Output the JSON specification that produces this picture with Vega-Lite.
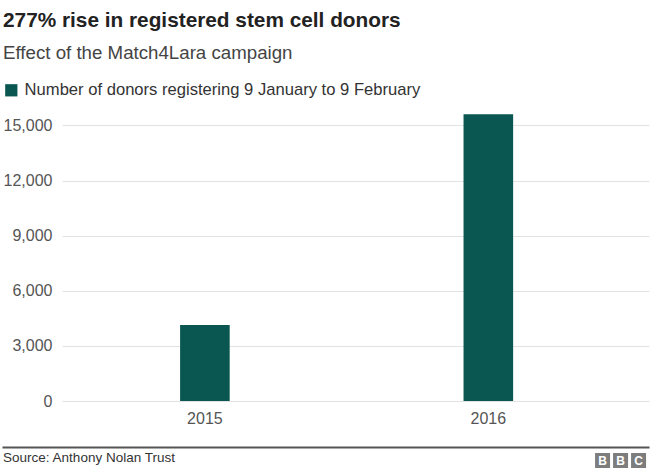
{
  "$schema": "https://vega.github.io/schema/vega-lite/v6.json",
  "padding": {"left": 3, "top": 9, "right": 10, "bottom": 0},
  "background": "white",
  "title": {
    "text": "277% rise in registered stem cell donors",
    "subtitle": "Effect of the Match4Lara campaign",
    "anchor": "start",
    "font": "Liberation Sans",
    "fontSize": 20.8,
    "fontWeight": "bold",
    "color": "#222222",
    "subtitleFont": "Liberation Sans",
    "subtitleFontSize": 18.7,
    "subtitleColor": "#444444",
    "subtitlePadding": 13,
    "offset": 18
  },
  "spacing": 21,
  "config": {"view": {"stroke": null}, "font": "Liberation Sans"},
  "vconcat": [
    {
      "width": 587,
      "height": 294,
      "data": {
        "values": [
          {"year": "2015", "donors": 4140, "series": "Number of donors registering 9 January to 9 February"},
          {"year": "2016", "donors": 15600, "series": "Number of donors registering 9 January to 9 February"}
        ]
      },
      "mark": {"type": "bar"},
      "encoding": {
        "x": {
          "field": "year",
          "type": "nominal",
          "scale": {"paddingInner": 0.825, "paddingOuter": 0.448, "align": 0.465},
          "axis": {"title": null, "labelAngle": 0, "labelFontSize": 16, "labelColor": "#555555", "domain": false, "ticks": false, "labelPadding": 9}
        },
        "y": {
          "field": "donors",
          "type": "quantitative",
          "scale": {"domain": [0, 16000], "nice": false},
          "axis": {"title": null, "values": [0, 3000, 6000, 9000, 12000, 15000], "format": ",d", "labelFontSize": 16, "labelColor": "#555555", "domain": false, "ticks": false, "labelPadding": 10, "gridColor": "#e2e2e2"}
        },
        "color": {
          "field": "series",
          "type": "nominal",
          "scale": {"range": ["#0a5752"]},
          "legend": {"title": null, "orient": "none", "legendX": -59, "legendY": -25, "symbolType": "square", "symbolSize": 150, "symbolStrokeWidth": 0, "symbolOpacity": 1, "labelFontSize": 16.6, "labelColor": "#333333", "labelOffset": 5, "labelLimit": 600}
        }
      }
    },
    {
      "width": 587,
      "height": 27,
      "encoding": {
        "x": {
          "field": "pos",
          "type": "quantitative",
          "scale": {"domain": [-32.36, 3.58], "nice": false, "zero": false, "range": [-60, 587]},
          "axis": {"orient": "top", "title": null, "labels": false, "ticks": false, "grid": false, "domain": true, "domainColor": "#555555", "domainWidth": 2}
        }
      },
      "layer": [
        {
          "data": {"values": [{"letter": "B", "pos": 1}, {"letter": "B", "pos": 2}, {"letter": "C", "pos": 3}]},
          "layer": [
            {"mark": {"type": "square", "size": 225, "color": "#7d7d7d", "opacity": 1}},
            {"mark": {"type": "text", "color": "white", "fontWeight": "bold", "fontSize": 12}, "encoding": {"text": {"field": "letter"}}}
          ]
        },
        {
          "data": {"values": [{"source": "Source: Anthony Nolan Trust", "pos": -32.3}]},
          "mark": {"type": "text", "align": "left", "fontSize": 13.5, "color": "#333333", "dy": -3},
          "encoding": {"text": {"field": "source"}}
        }
      ]
    }
  ]
}
